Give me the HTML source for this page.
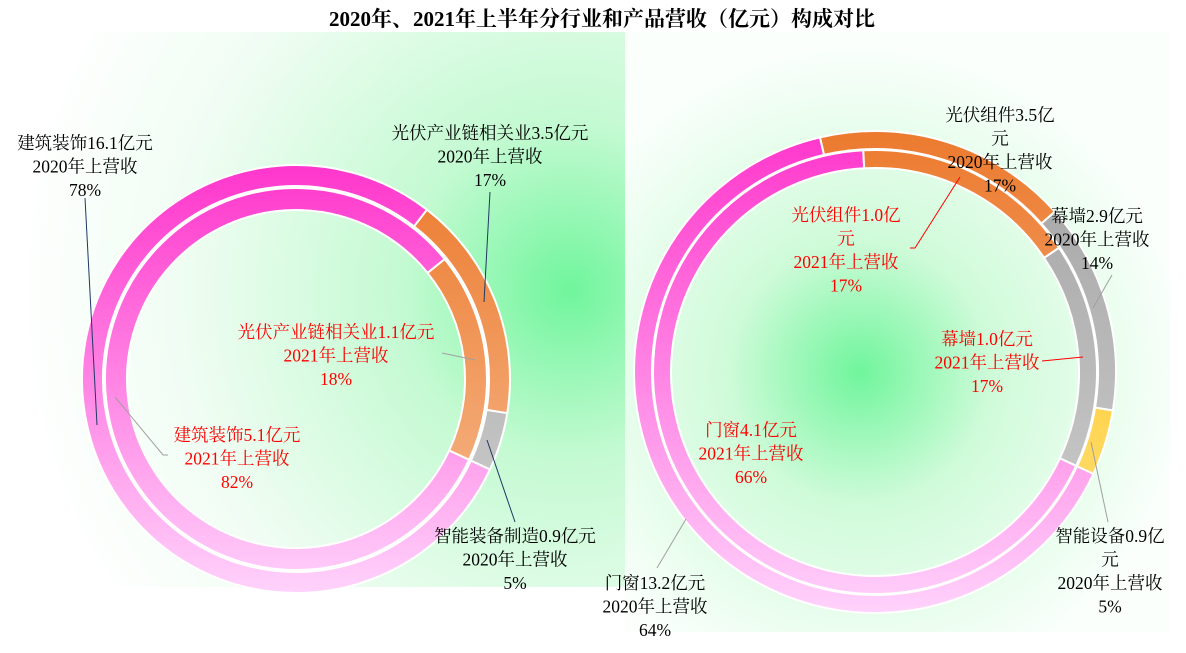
<!DOCTYPE html>
<html><head><meta charset="utf-8"><style>
body{margin:0;width:1186px;height:653px;overflow:hidden;background:#fff;font-family:"Liberation Serif","Noto Serif CJK SC",serif}
svg{position:absolute;left:0;top:0}
</style></head><body>
<svg id="chart" width="1186" height="653" viewBox="0 0 1186 653">
<defs>
<radialGradient id="bgL" cx="570" cy="290" r="560" gradientUnits="userSpaceOnUse"><stop offset="0" stop-color="#70f59c"/><stop offset="0.3" stop-color="#c4fad2"/><stop offset="0.7" stop-color="#f0fdf3"/><stop offset="1" stop-color="#ffffff"/></radialGradient>
<radialGradient id="bgR" cx="860" cy="372" r="330" gradientUnits="userSpaceOnUse"><stop offset="0" stop-color="#70f59c"/><stop offset="0.4" stop-color="#cffbd9"/><stop offset="1" stop-color="#fbfffc"/></radialGradient>
</defs>
<rect x="30" y="32" width="595" height="555" fill="url(#bgL)"/>
<rect x="625" y="32" width="545" height="600" fill="url(#bgR)"/>
<text x="602" y="26" text-anchor="middle" font-size="21" font-weight="bold">2020年、2021年上半年分行业和产品营收（亿元）构成对比</text>
<g id="rings"></g>
<g id="labels" font-size="17.5"></g>
</svg>
<script>
// Left chart data
const leftCats = ["建筑装饰","光伏产业链相关业","智能装备制造"];
const left2020 = [16.1, 3.5, 0.9];
const left2021 = [5.1, 1.1, 0];
const left2020Pct = [78, 17, 5];
const left2021Pct = [82, 18, 0];
// Right chart data
const rightCats = ["门窗","光伏组件","幕墙","智能设备"];
const right2020 = [13.2, 3.5, 2.9, 0.9];
const right2021 = [4.1, 1.0, 1.0, 0];
const right2020Pct = [64, 17, 14, 5];
const right2021Pct = [66, 17, 17, 0];

const NS="http://www.w3.org/2000/svg";
const svg=document.getElementById('chart');
const defs=svg.querySelector('defs');
const rings=document.getElementById('rings');
const labels=document.getElementById('labels');
const palettes=[["#ff36cc","#ffd2fb"],["#ec7a2e","#f7c097"],["#a3a3a3","#d2d2d2"],["#ffc000","#ffe38a"]];
const START=115;

function makeGrads(id,cy,R){
  palettes.forEach((p,i)=>{
    const g=document.createElementNS(NS,'linearGradient');
    g.setAttribute('id',id+i);g.setAttribute('gradientUnits','userSpaceOnUse');
    g.setAttribute('x1',0);g.setAttribute('x2',0);g.setAttribute('y1',cy-R);g.setAttribute('y2',cy+R);
    p.forEach((c,k)=>{const s=document.createElementNS(NS,'stop');s.setAttribute('offset',k);s.setAttribute('stop-color',c);g.appendChild(s);});
    defs.appendChild(g);
  });
}
function pt(cx,cy,r,deg){const a=deg*Math.PI/180;return [cx+r*Math.sin(a),cy-r*Math.cos(a)];}
function ring(id,cx,cy,r0,r1,vals,cats,tag){
  const tot=vals.reduce((a,b)=>a+b,0);let ang=START;
  vals.forEach((v,i)=>{
    if(v<=0)return;
    const sweep=v/tot*360,a2=ang+sweep;
    const [x1,y1]=pt(cx,cy,r1,ang),[x2,y2]=pt(cx,cy,r1,a2),[x3,y3]=pt(cx,cy,r0,a2),[x4,y4]=pt(cx,cy,r0,ang);
    const lg=sweep>180?1:0;
    const p=document.createElementNS(NS,'path');
    p.setAttribute('d',`M${x1},${y1}A${r1},${r1} 0 ${lg} 1 ${x2},${y2}L${x3},${y3}A${r0},${r0} 0 ${lg} 0 ${x4},${y4}Z`);
    p.setAttribute('fill',`url(#${id}${i})`);p.setAttribute('stroke','#fff');p.setAttribute('stroke-width','2');
    
    
    rings.appendChild(p);ang=a2;
  });
}
makeGrads('gl',379,214);makeGrads('gr',372,241);
ring('gl',296,379,193,214,left2020,leftCats,'left-2020');
ring('gl',296,379,169,191,left2021,leftCats,'left-2021');
ring('gr',875,372,223,241,right2020,rightCats,'right-2020');
ring('gr',875,372,204,222,right2021,rightCats,'right-2021');

function label(lines,x,y,color,name){
  const t=document.createElementNS(NS,'text');
  t.setAttribute('text-anchor','middle');t.setAttribute('fill',color);
  
  
  lines.forEach((s,i)=>{const ts=document.createElementNS(NS,'tspan');ts.setAttribute('x',x);ts.setAttribute('y',y+i*23.5);ts.textContent=s;t.appendChild(ts);});
  labels.appendChild(t);
}
function leader(pts,color,name){
  const l=document.createElementNS(NS,'polyline');
  l.setAttribute('points',pts);l.setAttribute('fill','none');l.setAttribute('stroke',color);l.setAttribute('stroke-width','1');
  
  
  labels.appendChild(l);
}
const Y0="2020年上营收",Y1="2021年上营收";
label([leftCats[0]+left2020[0].toFixed(1)+"亿元",Y0,left2020Pct[0]+"%"],85,149,"#000","label-left-2020-0");
leader("85,198 97,425","#1f3864","leader-left-2020-0");
label([leftCats[1]+left2020[1].toFixed(1)+"亿元",Y0,left2020Pct[1]+"%"],490,139,"#000","label-left-2020-1");
leader("490,192 484,302","#1f3864","leader-left-2020-1");
label([leftCats[2]+left2020[2].toFixed(1)+"亿元",Y0,left2020Pct[2]+"%"],515,542,"#000","label-left-2020-2");
leader("487,440 515,522","#1f3864","leader-left-2020-2");
label([leftCats[1]+left2021[1].toFixed(1)+"亿元",Y1,left2021Pct[1]+"%"],336,338,"#ff0000","label-left-2021-1");
leader("442,353 475,360","#a0a0a0","leader-left-2021-1");
label([leftCats[0]+left2021[0].toFixed(1)+"亿元",Y1,left2021Pct[0]+"%"],237,441,"#ff0000","label-left-2021-0");
leader("115,397 163,455 168,455","#a0a0a0","leader-left-2021-0");

label([rightCats[1]+right2020[1].toFixed(1)+"亿","元",Y0,right2020Pct[1]+"%"],1000,121,"#000","label-right-2020-1");
label([rightCats[1]+right2021[1].toFixed(1)+"亿","元",Y1,right2021Pct[1]+"%"],846,221,"#ff0000","label-right-2021-1");
leader("910,248 915,248 960,177","#ff0000","leader-right-2021-1");
label([rightCats[2]+right2020[2].toFixed(1)+"亿元",Y0,right2020Pct[2]+"%"],1097,222,"#000","label-right-2020-2");
leader("1093,308 1112,275","#a0a0a0","leader-right-2020-2");
label([rightCats[2]+right2021[2].toFixed(1)+"亿元",Y1,right2021Pct[2]+"%"],987,345,"#ff0000","label-right-2021-2");
leader("1042,361 1083,357","#ff0000","leader-right-2021-2");
label([rightCats[0]+right2021[0].toFixed(1)+"亿元",Y1,right2021Pct[0]+"%"],751,436,"#ff0000","label-right-2021-0");
label([rightCats[0]+right2020[0].toFixed(1)+"亿元",Y0,right2020Pct[0]+"%"],655,589,"#000","label-right-2020-0");
leader("657,568 686,519","#a0a0a0","leader-right-2020-0");
label([rightCats[3]+right2020[3].toFixed(1)+"亿","元",Y0,right2020Pct[3]+"%"],1110,542,"#000","label-right-2020-3");
leader("1091,442 1108,522","#a0a0a0","leader-right-2020-3");
</script>
</body></html>
